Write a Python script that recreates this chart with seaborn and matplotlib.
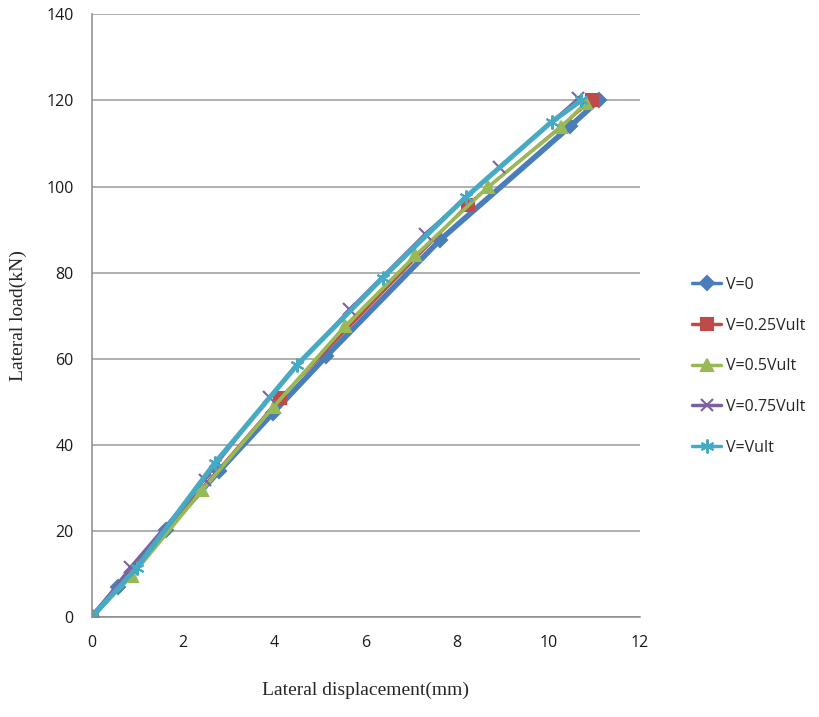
import pandas as pd
import seaborn as sns
import matplotlib.pyplot as plt

# data
labels = ['V=0', 'V=0.25Vult', 'V=0.5Vult', 'V=0.75Vult', 'V=Vult']

x_v0 = [0, 0.57, 1.62, 2.78, 3.96, 5.14, 7.63, 10.48, 11.1]
y_v0 = [0, 7, 20.2, 33.8, 47.3, 60.6, 87.6, 114, 120]

x_v25 = [0, 4.12, 8.23, 10.95]
y_v25 = [0, 50.8, 95.8, 120]

x_v50 = [0, 0.87, 2.42, 3.98, 5.54, 7.09, 8.67, 10.28, 10.83]
y_v50 = [0, 9.5, 29.5, 48.8, 67.5, 84, 99.8, 113.8, 119.5]

x_v75 = [0, 0.83, 2.47, 3.88, 5.64, 7.29, 8.93, 10.65]
y_v75 = [0, 11.5, 31.8, 51, 71.5, 89, 104.5, 120.5]

x_vu = [0, 0.98, 2.69, 4.5, 6.37, 8.2, 10.07, 10.72]
y_vu = [0, 11.4, 35.7, 58.6, 78.8, 97.6, 115, 120]

xs = [x_v0, x_v25, x_v50, x_v75, x_vu]
ys = [y_v0, y_v25, y_v50, y_v75, y_vu]

colors = ['#4A7EBB', '#BE4B48', '#98B954', '#7D60A0', '#46AAC5']
markers = ['D', 's', '^', 'x', (6, 2, 0)]
widths = [4.0, 2.0, 2.6, 1.6, 3.6]
msizes = [7, 8, 8, 9, 10]

sns.set_style('white')
fig = plt.figure(figsize=(8.2, 7.17), dpi=100)
ax = fig.add_axes([0.112, 0.1395, 0.668, 0.8405])

for lab, x, y, c, m, lw, ms in zip(labels, xs, ys, colors, markers, widths, msizes):
    df = pd.DataFrame({'disp': x, 'load': y})
    sns.lineplot(data=df, x='disp', y='load', ax=ax, color=c, lw=lw, sort=False,
                 marker=m, markersize=ms, markeredgecolor=c, markeredgewidth=1.5,
                 label=lab)

ax.set_xlim(0, 12)
ax.set_ylim(0, 140)
ax.set_xticks(range(0, 13, 2))
ax.set_yticks(range(0, 141, 20))
ax.yaxis.grid(True, color='#9a9a9a', lw=1.1)
ax.xaxis.grid(False)
for s in ['top', 'right']:
    ax.spines[s].set_visible(False)
for s in ['left', 'bottom']:
    ax.spines[s].set_color('#8a8a8a')
    ax.spines[s].set_linewidth(1.1)
ax.tick_params(axis='both', direction='out', length=5, color='#8a8a8a',
               labelsize=11.5, labelcolor='#1a1a1a', pad=8)
for t in ax.get_xticklabels() + ax.get_yticklabels():
    t.set_family('Open Sans')

ax.set_xlabel('Lateral displacement(mm)', family='Liberation Serif', fontsize=14, labelpad=22)
ax.set_ylabel('Lateral load(kN)', family='Liberation Serif', fontsize=14, labelpad=14)

leg = ax.legend(loc='center left', bbox_to_anchor=(1.07, 0.416), frameon=False,
                labelspacing=1.55, handlelength=1.8, handletextpad=0.3,
                prop={'family': 'Open Sans', 'size': 11.5})
for h in leg.get_lines():
    h.set_linewidth(2.5)

fig.savefig('out.png', dpi=100)
